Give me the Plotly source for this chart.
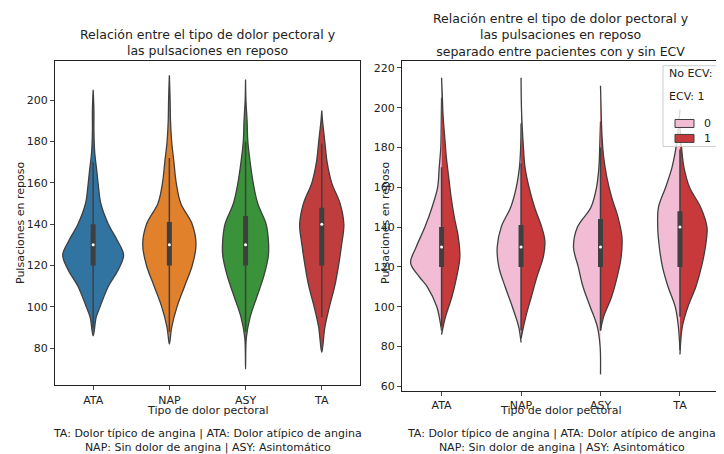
import plotly.graph_objects as go

categorias = ["ATA", "NAP", "ASY", "TA"]
colores = ["#3274a1", "#e1812c", "#3a923a", "#c03d3e"]
color_0 = "#f2bcd4"
color_1 = "#c8393c"

# perfiles de densidad (valor, semiancho)
perfil_y = {
    "ATA": [86, 95, 100, 110, 118, 125, 132, 140, 150, 158, 165, 175, 185, 195, 205],
    "NAP": [82, 90, 100, 110, 120, 130, 140, 150, 160, 170, 180, 190, 200, 212],
    "ASY": [70, 85, 95, 105, 115, 125, 132, 140, 150, 160, 170, 180, 190, 200, 210],
    "TA": [78, 90, 100, 110, 120, 130, 140, 150, 160, 170, 180, 190, 195],
}
perfil_w = {
    "ATA": [0, 0.04, 0.09, 0.2, 0.33, 0.4, 0.32, 0.2, 0.1, 0.07, 0.05, 0.02, 0.01, 0.01, 0],
    "NAP": [0, 0.03, 0.1, 0.2, 0.3, 0.35, 0.3, 0.15, 0.09, 0.06, 0.03, 0.015, 0.01, 0],
    "ASY": [0, 0.01, 0.06, 0.15, 0.24, 0.3, 0.3, 0.27, 0.16, 0.1, 0.06, 0.03, 0.02, 0.005, 0],
    "TA": [0, 0.04, 0.1, 0.17, 0.22, 0.26, 0.29, 0.24, 0.13, 0.07, 0.04, 0.01, 0],
}
ecv0_y = {
    "ATA": [88, 95, 100, 110, 115, 122, 130, 140, 150, 160, 170, 180, 190, 200, 205],
    "NAP": [82, 90, 100, 110, 120, 130, 140, 150, 160, 170, 180, 192],
    "ASY": [66, 80, 90, 100, 110, 120, 130, 140, 150, 160, 170, 180, 193],
    "TA": [78, 90, 100, 110, 120, 130, 140, 150, 160, 170, 180, 190, 199],
}
ecv0_w = {
    "ATA": [0, 0.03, 0.06, 0.18, 0.28, 0.39, 0.32, 0.21, 0.12, 0.05, 0.03, 0.01, 0.005, 0.002, 0],
    "NAP": [0, 0.03, 0.11, 0.2, 0.28, 0.3, 0.25, 0.13, 0.06, 0.02, 0.005, 0],
    "ASY": [0, 0.005, 0.04, 0.13, 0.22, 0.28, 0.34, 0.29, 0.12, 0.05, 0.02, 0.01, 0],
    "TA": [0, 0.02, 0.06, 0.15, 0.22, 0.26, 0.28, 0.27, 0.18, 0.1, 0.05, 0.02, 0],
}
ecv1_y = {
    "ATA": [86, 95, 105, 115, 125, 135, 145, 155, 165, 175, 185, 195, 205, 215],
    "NAP": [84, 95, 105, 115, 125, 133, 140, 150, 160, 170, 180, 190, 200, 215],
    "ASY": [88, 95, 105, 115, 125, 135, 145, 155, 165, 175, 185, 195, 211],
    "TA": [76, 90, 100, 110, 120, 130, 140, 150, 160, 170, 180, 190],
}
ecv1_w = {
    "ATA": [0, 0.05, 0.13, 0.19, 0.23, 0.21, 0.16, 0.12, 0.09, 0.06, 0.04, 0.02, 0.01, 0],
    "NAP": [0, 0.06, 0.13, 0.2, 0.28, 0.3, 0.26, 0.17, 0.1, 0.05, 0.03, 0.015, 0.005, 0],
    "ASY": [0, 0.04, 0.14, 0.21, 0.26, 0.27, 0.22, 0.14, 0.08, 0.04, 0.02, 0.01, 0],
    "TA": [0, 0.03, 0.1, 0.2, 0.27, 0.32, 0.34, 0.26, 0.12, 0.05, 0.02, 0],
}
q1 = [120, 120, 120, 120]
q3 = [140, 141, 144, 148]
mediana = [130, 130, 130, 140]
bigote_inf = [90, 88, 88, 95]
bigote_sup = [170, 172, 180, 179]

borde = "#3f3f3f"
fig = go.Figure()


def caja(i, xa, ya):
    fig.add_trace(go.Scatter(x=[i, i], y=[bigote_inf[i], bigote_sup[i]], mode="lines",
                             line=dict(color=borde, width=1.5), xaxis=xa, yaxis=ya, showlegend=False))
    fig.add_trace(go.Scatter(x=[i, i], y=[q1[i], q3[i]], mode="lines",
                             line=dict(color=borde, width=5), xaxis=xa, yaxis=ya, showlegend=False))
    fig.add_trace(go.Scatter(x=[i], y=[mediana[i]], mode="markers",
                             marker=dict(color="white", size=3), xaxis=xa, yaxis=ya, showlegend=False))


for i, c in enumerate(categorias):
    ys, ws = perfil_y[c], perfil_w[c]
    xs = [i + w for w in ws] + [i - w for w in ws[::-1]]
    fig.add_trace(go.Scatter(x=xs, y=ys + ys[::-1], fill="toself", fillcolor=colores[i],
                             mode="lines", line=dict(color=borde, width=1.3, shape="spline"),
                             xaxis="x", yaxis="y", showlegend=False))
    caja(i, "x", "y")

for i, c in enumerate(categorias):
    ys, ws = ecv0_y[c], ecv0_w[c]
    fig.add_trace(go.Scatter(x=[i - w for w in ws], y=ys, fill="toself", fillcolor=color_0,
                             mode="lines", line=dict(color=borde, width=1.3, shape="spline"),
                             xaxis="x2", yaxis="y2", showlegend=False))
    ys, ws = ecv1_y[c], ecv1_w[c]
    fig.add_trace(go.Scatter(x=[i + w for w in ws], y=ys, fill="toself", fillcolor=color_1,
                             mode="lines", line=dict(color=borde, width=1.3, shape="spline"),
                             xaxis="x2", yaxis="y2", showlegend=False))
    caja(i, "x2", "y2")

eje = dict(showline=True, linecolor="#222", linewidth=1, mirror=True, ticks="outside",
           ticklen=4, showgrid=False, zeroline=False, tickfont=dict(size=11, color="#222"))
fig.update_layout(
    width=724, height=454, margin=dict(l=0, r=0, t=0, b=0),
    paper_bgcolor="white", plot_bgcolor="white",
    font=dict(family="DejaVu Sans", size=11, color="#222"),
    xaxis=dict(eje, domain=[0.065, 0.486], range=[-0.5, 3.5], tickvals=[0, 1, 2, 3], ticktext=categorias),
    yaxis=dict(eje, domain=[0.165, 0.883], range=[62, 219], dtick=20),
    xaxis2=dict(eje, domain=[0.544, 0.983], range=[-0.5, 3.5], tickvals=[0, 1, 2, 3],
                ticktext=categorias, anchor="y2"),
    yaxis2=dict(eje, domain=[0.152, 0.883], range=[57.5, 223.5], dtick=20, anchor="x2"),
)

def texto(t, x, y, size=12, xanchor="center", **kw):
    fig.add_annotation(text=t, x=x, y=y, xref="paper", yref="paper", showarrow=False,
                       xanchor=xanchor, yanchor="middle", font=dict(size=size), **kw)

texto("Relación entre el tipo de dolor pectoral y<br>las pulsaciones en reposo", 0.276, 1 - 35 / 454, 12.5)
texto("Relación entre el tipo de dolor pectoral y<br>las pulsaciones en reposo<br>separado entre pacientes con y sin ECV",
      0.764, 1 - 27 / 454, 12.5)
for xc in (0.276, 0.764):
    texto("Tipo de dolor pectoral", xc, 1 - 404 / 454, 11)
    texto("TA: Dolor típico de angina | ATA: Dolor atípico de angina<br>NAP: Sin dolor de angina | ASY: Asintomático",
          xc, 1 - 434 / 454, 11)
texto("Pulsaciones en reposo", 12 / 724, 1 - 216 / 454, 11, textangle=-90)
texto("Pulsaciones en reposo", 377 / 724, 1 - 216 / 454, 11, textangle=-90)

# leyenda
fig.add_shape(type="rect", xref="paper", yref="paper", x0=655 / 724, x1=712 / 724,
              y0=1 - 139 / 454, y1=1 - 58 / 454, line=dict(color="#ccc", width=1),
              fillcolor="rgba(255,255,255,0.8)")
texto("No ECV: 0", 659 / 724, 1 - 66 / 454, 11, xanchor="left")
texto("ECV: 1", 659 / 724, 1 - 89 / 454, 11, xanchor="left")
for k, (col, lab) in enumerate([(color_0, "0"), (color_1, "1")]):
    yc = 116 + 15 * k
    fig.add_shape(type="rect", xref="paper", yref="paper", x0=667 / 724, x1=686 / 724,
                  y0=1 - (yc + 4) / 454, y1=1 - (yc - 4) / 454, line=dict(color=borde, width=1),
                  fillcolor=col)
    texto(lab, 694 / 724, 1 - yc / 454, 11, xanchor="left")

fig.write_html("out.html")
